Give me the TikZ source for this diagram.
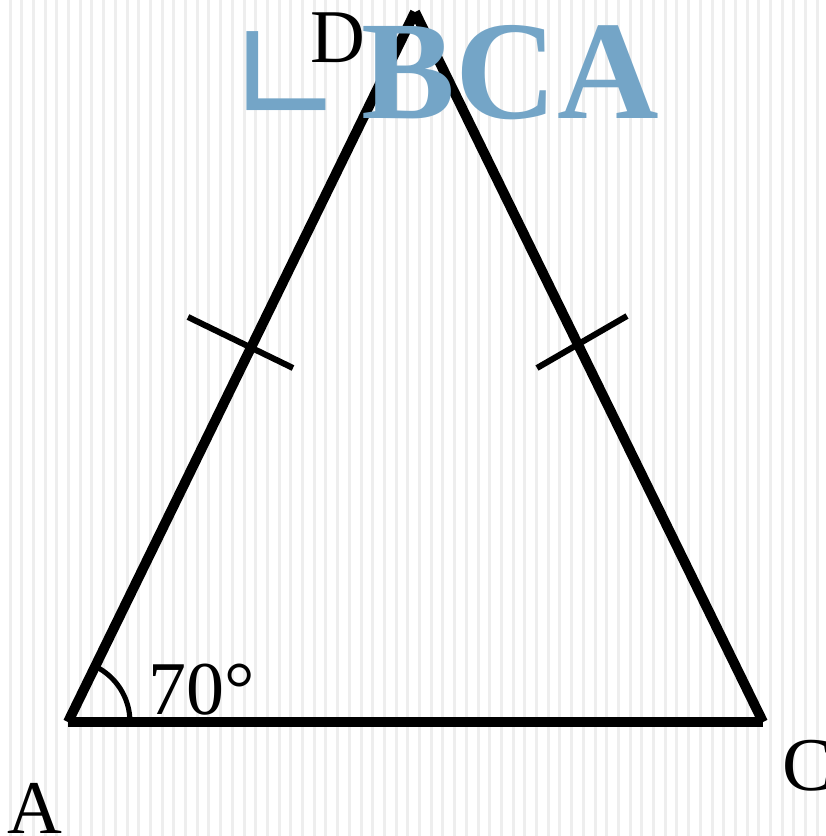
\documentclass[tikz,border=0pt]{standalone}
\usepackage{fontspec}
\setmainfont{Liberation Serif}
\newfontfamily\symfont{DejaVu Sans}
\usetikzlibrary{positioning}
\definecolor{titleblue}{RGB}{116,165,199}
\definecolor{stripegray}{RGB}{238,238,238}
\tikzset{
  side/.style={line width=7.1pt,line cap=butt},
  tick/.style={line width=4.3pt},
  vlabel/.style={font=\fontsize{54}{60}\selectfont,inner sep=0pt}
}
\begin{document}
\begin{tikzpicture}[x=0.025cm,y=-0.025cm]
\useasboundingbox (0,0) rectangle (825,836);
\fill[white] (0,0) rectangle (825,836);
\foreach \i in {0,...,70}
  \fill[stripegray] ({10+11.7*\i-1.5},0) rectangle ({10+11.7*\i+1.5},836);
\coordinate (A) at (68,722);
\coordinate (D) at (415,12);
\coordinate (C) at (763,722);
\draw[side] (A)--(D);
\draw[side] (D)--(C);
\draw[side] (A)--(C);
\draw[tick] (188,317)--(293,368);
\draw[tick] (537,368)--(627,316);
\draw[line width=3.6pt] (A) ++(62,0) arc[start angle=0,end angle=-64,radius=62];
\node[vlabel,anchor=base] (lA) at (35,833) {A};
\node[vlabel,anchor=base] (lD) at (338,62) {D};
\node[vlabel,anchor=base west] (lC) at (782,790) {C};
\node[vlabel,anchor=base west] (ang) at (148,714) {70°};
\node[inner sep=0pt,anchor=base west,text=titleblue] (title) at (227,118)
  {\raisebox{-0.17cm}{\symfont\fontsize{100}{110}\selectfont ∟}\hspace{0.42cm}{\fontsize{100}{110}\selectfont\bfseries BCA}};
\end{tikzpicture}
\end{document}
